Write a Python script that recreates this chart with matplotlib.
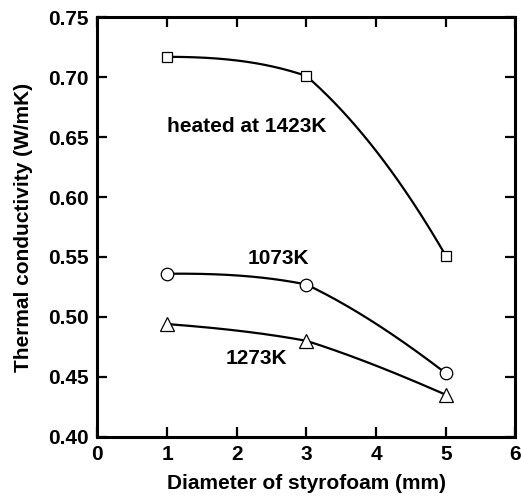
import numpy as np
import matplotlib
matplotlib.use("Agg")
from matplotlib import pyplot as plt

# diameter of styrofoam (mm)
diameter = [1, 3, 5]

# thermal conductivity (W/mK) for each heating temperature
k_1423 = [0.717, 0.701, 0.551]
k_1073 = [0.536, 0.527, 0.453]
k_1273 = [0.494, 0.480, 0.435]

x_ticks = [0, 1, 2, 3, 4, 5, 6]
y_ticks = [0.40, 0.45, 0.50, 0.55, 0.60, 0.65, 0.70, 0.75]


def smooth_curve(ax, x, y, n=80):
    # piecewise cubic in screen space; each segment bends a little about its
    # chord, like the hand-smoothed lines of the original plot
    pts = ax.transData.transform(np.column_stack([x, y]))
    px, py = pts[:, 0], pts[:, 1]
    chord = np.arctan2(np.diff(py), np.diff(px))
    nseg = len(chord)
    left = np.zeros(nseg)   # tangent angle at start of each segment
    right = np.zeros(nseg)  # tangent angle at end of each segment
    for i in range(nseg):
        if i > 0:
            left[i] = 0.25 * chord[i - 1] + 0.75 * chord[i]
        if i < nseg - 1:
            right[i] = 0.75 * chord[i] + 0.25 * chord[i + 1]
    left[0] = chord[0] - 0.7 * (right[0] - chord[0])
    right[-1] = chord[-1] + 0.7 * (chord[-1] - left[-1])
    xs_all, ys_all = [], []
    for i in range(nseg):
        h = px[i + 1] - px[i]
        t = np.linspace(0, 1, n)
        h00 = 2 * t**3 - 3 * t**2 + 1
        h10 = t**3 - 2 * t**2 + t
        h01 = -2 * t**3 + 3 * t**2
        h11 = t**3 - t**2
        yy = (h00 * py[i] + h10 * h * np.tan(left[i])
              + h01 * py[i + 1] + h11 * h * np.tan(right[i]))
        xs_all.append(px[i] + t * h)
        ys_all.append(yy)
    disp = np.column_stack([np.concatenate(xs_all), np.concatenate(ys_all)])
    data = ax.transData.inverted().transform(disp)
    return data[:, 0], data[:, 1]


plt.rcParams["font.family"] = ["Liberation Sans", "DejaVu Sans"]
plt.rcParams["font.weight"] = "bold"

fig = plt.figure(figsize=(5.21, 4.98), dpi=100)
ax = fig.add_axes([0.1868, 0.1231, 0.8026, 0.8422])
ax.set_xlim(0, 6)
ax.set_ylim(0.40, 0.75)

for vals, mk, ms in [(k_1423, "s", 7.2), (k_1073, "o", 9), (k_1273, "^", 10.5)]:
    cx, cy = smooth_curve(ax, diameter, vals)
    ax.plot(cx, cy, color="black", lw=1.6, zorder=2)
    ax.plot(diameter, vals, ls="none", marker=mk, ms=ms, mfc="white",
            mec="black", mew=0.9, zorder=3)

ax.text(1.0, 0.659, "heated at 1423K", fontsize=15, fontweight="bold",
        ha="left", va="center")
ax.text(2.6, 0.549, "1073K", fontsize=15, fontweight="bold",
        ha="center", va="center")
ax.text(2.28, 0.4655, "1273K", fontsize=15, fontweight="bold",
        ha="center", va="center")

ax.set_xticks(x_ticks)
ax.set_yticks(y_ticks)
ax.set_yticklabels([f"{v:.2f}" for v in y_ticks])
ax.tick_params(direction="in", length=7, width=1.6, labelsize=15,
               top=True, right=True, pad=6)
for lab in ax.get_xticklabels() + ax.get_yticklabels():
    lab.set_fontweight("bold")
for sp in ax.spines.values():
    sp.set_linewidth(2.2)

ax.set_xlabel("Diameter of styrofoam (mm)", fontsize=15, fontweight="bold",
              labelpad=7)
ax.set_ylabel("Thermal conductivity (W/mK)", fontsize=15, fontweight="bold",
              labelpad=11)

fig.savefig("out.png", dpi=100)
plt.close(fig)
